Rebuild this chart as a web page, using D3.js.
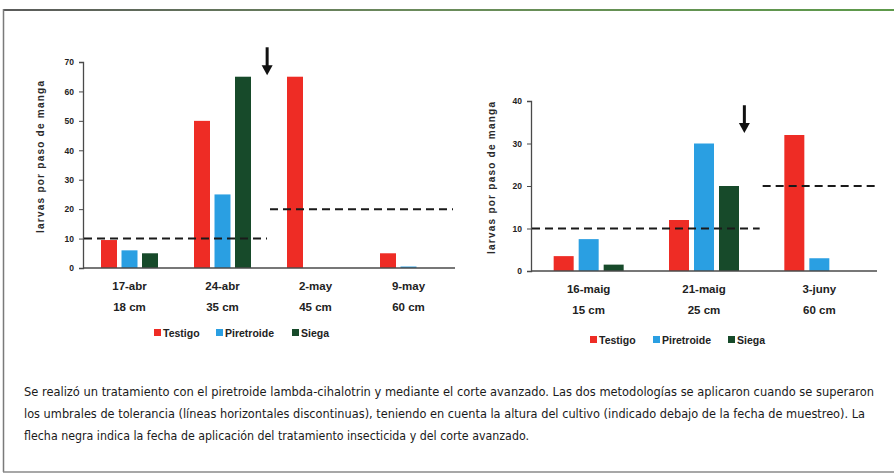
<!DOCTYPE html>
<html>
<head>
<meta charset="utf-8">
<script src="https://cdn.jsdelivr.net/npm/d3@7"></script>
<style>
  body { margin: 0; background: #fff; }
  svg { display: block; font-family: "Liberation Sans", Arial, sans-serif; }
  .cap { font-family: "DejaVu Sans", sans-serif; font-stretch: condensed; }
</style>
</head>
<body>
<svg id="chart" width="894" height="475"></svg>
<script>
// series shared by both panels
const series = ["Testigo", "Piretroide", "Siega"];
const colors = ["#ee2c25", "#2a9fe2", "#174a2a"];

// left panel
const leftDates = ["17-abr", "24-abr", "2-may", "9-may"];
const leftHeights = ["18 cm", "35 cm", "45 cm", "60 cm"];
const leftTestigo = [9.5, 50, 65, 5];
const leftPiretroide = [6, 25, null, 0.5];
const leftSiega = [5, 65, null, null];
const leftTicks = [0, 10, 20, 30, 40, 50, 60, 70];
const leftThresholds = [
  { from: "17-abr", to: "24-abr", value: 10 },
  { from: "2-may", to: "9-may", value: 20 }
];

// right panel
const rightDates = ["16-maig", "21-maig", "3-juny"];
const rightHeights = ["15 cm", "25 cm", "60 cm"];
const rightTestigo = [3.5, 12, 32];
const rightPiretroide = [7.5, 30, 3];
const rightSiega = [1.5, 20, null];
const rightTicks = [0, 10, 20, 30, 40];
const rightThresholds = [
  { from: "16-maig", to: "21-maig", value: 10 },
  { from: "3-juny", to: "3-juny", value: 20 }
];

const caption = [
  "Se realizó un tratamiento con el piretroide lambda-cihalotrin y mediante el corte avanzado. Las dos metodologías se aplicaron cuando se superaron",
  "los umbrales de tolerancia (líneas horizontales discontinuas), teniendo en cuenta la altura del cultivo (indicado debajo de la fecha de muestreo). La",
  "flecha negra indica la fecha de aplicación del tratamiento insecticida y del corte avanzado."
];

const svg = d3.select("#chart");

// frame
const defs = svg.append("defs");
const grad = defs.append("linearGradient").attr("id", "topLine");
grad.append("stop").attr("offset", "0%").attr("stop-color", "#5a5a5a");
grad.append("stop").attr("offset", "45%").attr("stop-color", "#6b8a5c");
grad.append("stop").attr("offset", "100%").attr("stop-color", "#5d9a4a");
svg.append("rect").attr("x", 0).attr("y", 0).attr("width", 894).attr("height", 475).attr("fill", "#fff");
svg.append("rect").attr("x", 3).attr("y", 9).attr("width", 900).attr("height", 2).attr("fill", "url(#topLine)");
svg.append("line").attr("x1", 3.5).attr("x2", 3.5).attr("y1", 9).attr("y2", 472)
  .attr("stroke", "#7a7a7a").attr("stroke-width", 1.5);
svg.append("line").attr("x1", 3).attr("x2", 894).attr("y1", 472).attr("y2", 472)
  .attr("stroke", "#8a8a8a").attr("stroke-width", 1.5);

function drawPanel(cfg) {
  const g = svg.append("g");
  const x = d3.scaleBand().domain(cfg.dates).range([cfg.left, cfg.right]).paddingInner(0).paddingOuter(0);
  const y = d3.scaleLinear().domain([0, cfg.ticks[cfg.ticks.length - 1]]).range([cfg.bottom, cfg.top]);
  const x1 = d3.scaleBand().domain(series).range([0, cfg.groupWidth]).paddingInner(cfg.barPad);
  const offset = (x.bandwidth() - cfg.groupWidth) / 2;

  const values = [cfg.testigo, cfg.piretroide, cfg.siega];
  const rows = [];
  cfg.dates.forEach((d, i) => {
    series.forEach((s, j) => {
      if (values[j][i] != null) rows.push({ date: d, series: s, value: values[j][i], color: colors[j] });
    });
  });

  g.selectAll("rect.bar").data(rows).enter().append("rect")
    .attr("class", "bar")
    .attr("x", d => x(d.date) + offset + x1(d.series))
    .attr("y", d => y(d.value))
    .attr("width", x1.bandwidth())
    .attr("height", d => y(0) - y(d.value))
    .attr("fill", d => d.color);

  // y axis
  const yAxis = g.append("g").attr("transform", `translate(${cfg.left},0)`)
    .call(d3.axisLeft(y).tickValues(cfg.ticks).tickSize(4).tickPadding(5).tickFormat(d3.format("d")));
  yAxis.select(".domain").attr("stroke", "#4a4a4a").attr("stroke-width", 1.3);
  yAxis.selectAll(".tick line").attr("stroke", "#4a4a4a");
  yAxis.selectAll("text").attr("font-size", 8.5).attr("font-weight", "bold").attr("fill", "#222");

  // x axis line
  g.append("line").attr("x1", cfg.left).attr("x2", cfg.right).attr("y1", y(0)).attr("y2", y(0))
    .attr("stroke", "#4a4a4a").attr("stroke-width", 1.5);

  // category labels
  const lab = g.selectAll("g.cat").data(cfg.dates).enter().append("g")
    .attr("transform", d => `translate(${x(d) + x.bandwidth() / 2},0)`);
  lab.append("text").attr("y", cfg.bottom + 22).attr("text-anchor", "middle")
    .attr("font-size", 11.5).attr("font-weight", "bold").attr("fill", "#222").text(d => d);
  lab.append("text").attr("y", cfg.bottom + 43).attr("text-anchor", "middle")
    .attr("font-size", 11.5).attr("font-weight", "bold").attr("fill", "#222")
    .text((d, i) => cfg.heights[i]);

  // threshold dashed lines
  g.selectAll("line.thr").data(cfg.thresholds).enter().append("line")
    .attr("x1", d => x(d.from) + 1)
    .attr("x2", d => x(d.to) + x.bandwidth() - 2)
    .attr("y1", d => y(d.value)).attr("y2", d => y(d.value))
    .attr("stroke", "#1a1a1a").attr("stroke-width", 2).attr("stroke-dasharray", "8,5");

  // y axis title
  g.append("text")
    .attr("transform", `translate(${cfg.titleX},${(cfg.top + cfg.bottom) / 2 - 8}) rotate(-90)`)
    .attr("text-anchor", "middle").attr("font-size", 10).attr("font-weight", "bold")
    .attr("fill", "#2a2a2a").attr("textLength", 152).attr("lengthAdjust", "spacing")
    .text("larvas por paso de manga");

  // arrow marking the treatment date
  const ax = x(cfg.arrow.after) + x.bandwidth() * cfg.arrow.frac;
  const ay1 = y(cfg.arrow.from), ay2 = y(cfg.arrow.to);
  g.append("line").attr("x1", ax).attr("x2", ax).attr("y1", ay1).attr("y2", ay2 - 8)
    .attr("stroke", "#111").attr("stroke-width", 3);
  g.append("path")
    .attr("d", `M${ax - 5.5},${ay2 - 10} L${ax + 5.5},${ay2 - 10} L${ax},${ay2} Z`)
    .attr("fill", "#111");

  // legend
  const leg = g.append("g").attr("transform", `translate(0,${cfg.legendY})`);
  series.forEach((s, i) => {
    leg.append("rect").attr("x", cfg.legendX[i]).attr("y", -4).attr("width", 7).attr("height", 7).attr("fill", colors[i]);
    leg.append("text").attr("x", cfg.legendX[i] + 9).attr("y", 3.5)
      .attr("font-size", 10.5).attr("font-weight", "bold").attr("fill", "#222").text(s);
  });
}

drawPanel({
  dates: leftDates, heights: leftHeights,
  testigo: leftTestigo, piretroide: leftPiretroide, siega: leftSiega,
  ticks: leftTicks, thresholds: leftThresholds,
  left: 83, right: 455, top: 62, bottom: 268,
  groupWidth: 57, barPad: 0.22,
  titleX: 44,
  arrow: { after: "24-abr", frac: 0.98, from: 75, to: 65.5 },
  legendY: 333, legendX: [154, 216, 292]
});

drawPanel({
  dates: rightDates, heights: rightHeights,
  testigo: rightTestigo, piretroide: rightPiretroide, siega: rightSiega,
  ticks: rightTicks, thresholds: rightThresholds,
  left: 531, right: 877, top: 101, bottom: 271,
  groupWidth: 70, barPad: 0.2,
  titleX: 495,
  arrow: { after: "21-maig", frac: 0.85, from: 39, to: 32.5 },
  legendY: 340, legendX: [590, 653, 728]
});

// caption
const capW = [850, 841, 505];
svg.selectAll("text.cap").data(caption).enter().append("text")
  .attr("class", "cap")
  .attr("x", 24)
  .attr("y", (d, i) => 396 + i * 22)
  .attr("font-size", 13)
  .attr("fill", "#1a1a1a")
  .attr("textLength", (d, i) => capW[i])
  .attr("lengthAdjust", "spacingAndGlyphs")
  .text(d => d);
</script>
</body>
</html>
